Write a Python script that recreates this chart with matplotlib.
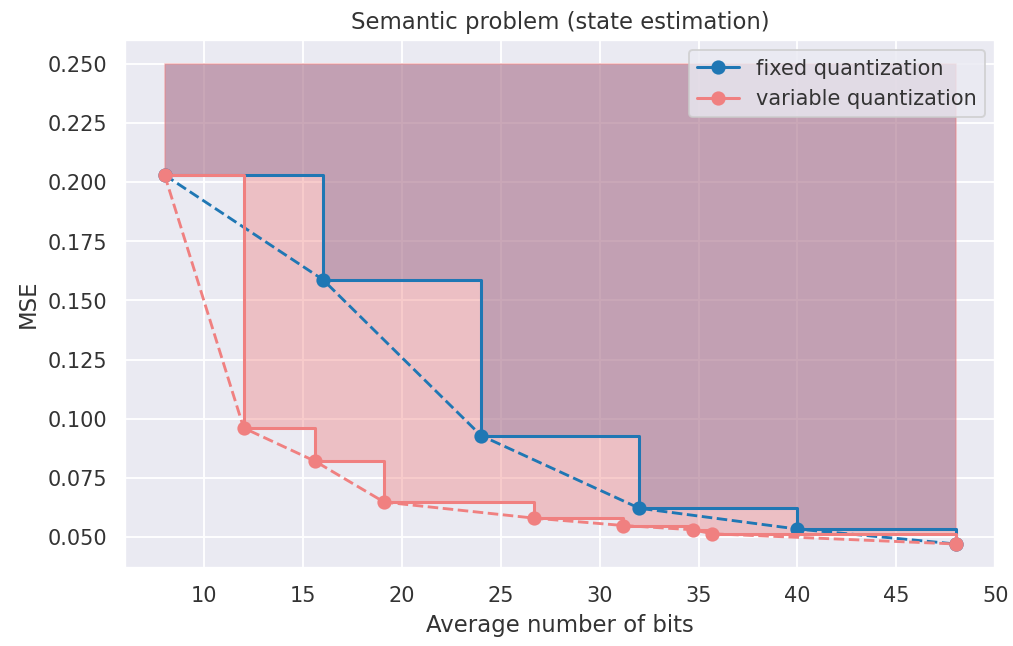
import matplotlib
matplotlib.use('Agg')
import matplotlib.pyplot as plt
import seaborn as sns

# values
fixed_bits = [8, 16, 24, 32, 40, 48]
fixed_mse = [0.203, 0.1588, 0.0929, 0.0622, 0.0534, 0.0471]

variable_bits = [8, 12, 15.6, 19.1, 26.7, 31.2, 34.7, 35.7, 48]
variable_mse = [0.203, 0.0961, 0.0821, 0.0648, 0.058, 0.0549, 0.0531, 0.0514, 0.0471]

mse_ceiling = 0.25

sns.set_theme()  # darkgrid, notebook context

DPI = 136.7
fig = plt.figure(figsize=(1013.3 / DPI, 646.3 / DPI), dpi=DPI)
ax = fig.add_axes([0.1234, 0.1207, 0.8588, 0.8174])

# shaded areas above each staircase
ax.fill_between(fixed_bits, fixed_mse, mse_ceiling, step='post', color='C0', alpha=0.43, lw=0)
ax.fill_between(variable_bits, variable_mse, mse_ceiling, step='post', color='lightcoral', alpha=0.4)

ax.step(fixed_bits, fixed_mse, 'o-', where='post', color='tab:blue', lw=1.6, ms=6.5,
        label='fixed quantization')
ax.plot(fixed_bits, fixed_mse, '--', color='tab:blue', lw=1.5)

ax.step(variable_bits, variable_mse, 'o-', where='post', color='lightcoral', lw=1.6, ms=6.5,
        label='variable quantization')
ax.plot(variable_bits, variable_mse, '--', color='lightcoral', lw=1.5)

ax.set_title('Semantic problem (state estimation)', color='0.2')
ax.set_xlabel('Average number of bits', color='0.2')
ax.set_ylabel('MSE', color='0.2')
ax.tick_params(labelcolor='0.2')
leg = ax.legend(loc='upper right')
for t in leg.get_texts():
    t.set_color('0.2')

fig.savefig('out.png', dpi=DPI)
